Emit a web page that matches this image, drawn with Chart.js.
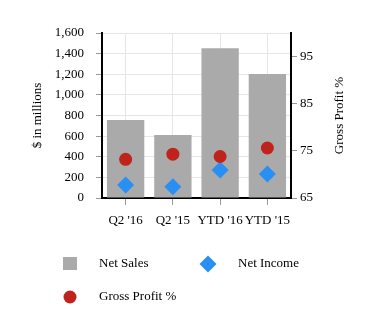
<!DOCTYPE html>
<html>
<head>
<meta charset="utf-8">
<script src="https://cdn.jsdelivr.net/npm/chart.js@4/dist/chart.umd.min.js"></script>
<style>
  html, body { margin: 0; padding: 0; background: #fff; }
</style>
</head>
<body>
<canvas id="salesChart" width="377" height="333"></canvas>
<script>
// chart data
const categories = ["Q2 '16", "Q2 '15", "YTD '16", "YTD '15"];
const netSales = [756, 611, 1452, 1203];      // $ in millions
const netIncome = [126, 110, 272, 233];       // $ in millions
const grossProfit = [73.2, 74.3, 73.8, 75.6]; // %
const rightTicks = [65, 75, 85, 95];

const serif = 'Liberation Serif';
Chart.defaults.font.family = serif;
Chart.defaults.font.size = 13;
Chart.defaults.color = '#000';

// legend laid out in a grid under the plot, plus the right axis title
const extras = {
    id: 'extras',
    afterDraw(chart) {
        const c = chart.ctx;
        const ds = chart.data.datasets;
        c.save();
        c.font = '13px "Liberation Serif"';
        c.fillStyle = '#000';
        c.textBaseline = 'middle';
        c.textAlign = 'left';

        // Net Sales box
        c.fillStyle = ds[0].backgroundColor;
        c.fillRect(63, 257, 14, 13);
        c.fillStyle = '#000';
        c.fillText(ds[0].label, 99, 264);

        // Net Income diamond
        c.fillStyle = ds[1].pointBackgroundColor;
        c.beginPath();
        c.moveTo(208, 255.5);
        c.lineTo(216.5, 264);
        c.lineTo(208, 272.5);
        c.lineTo(199.5, 264);
        c.closePath();
        c.fill();
        c.fillStyle = '#000';
        c.fillText(ds[1].label, 238, 264);

        // Gross Profit circle
        c.fillStyle = ds[2].pointBackgroundColor;
        c.beginPath();
        c.arc(70, 297, 6.5, 0, Math.PI * 2);
        c.fill();
        c.fillStyle = '#000';
        c.fillText(ds[2].label, 99, 297);

        // right axis title, reading upward
        const a = chart.chartArea;
        c.translate(340, (a.top + a.bottom) / 2);
        c.rotate(-Math.PI / 2);
        c.textAlign = 'center';
        c.fillText('Gross Profit %', 0, 0);
        c.restore();
    }
};

const ctx = document.getElementById('salesChart').getContext('2d');
const salesChart = new Chart(ctx, {
    data: {
        labels: categories,
        datasets: [{
            type: 'bar',
            label: 'Net Sales',
            data: netSales,
            backgroundColor: '#aaaaaa',
            categoryPercentage: 1,
            barPercentage: 0.79,
            yAxisID: 'y',
            order: 10
        }, {
            type: 'line',
            label: 'Net Income',
            data: netIncome,
            showLine: false,
            pointStyle: 'rectRot',
            pointRadius: 8.5,
            pointHoverRadius: 8.5,
            pointBorderWidth: 0,
            pointBackgroundColor: '#2a8ff2',
            borderColor: '#2a8ff2',
            yAxisID: 'y',
            order: 1
        }, {
            type: 'line',
            label: 'Gross Profit %',
            data: grossProfit,
            showLine: false,
            pointStyle: 'circle',
            pointRadius: 6.5,
            pointHoverRadius: 6.5,
            pointBorderWidth: 0,
            pointBackgroundColor: '#c0231b',
            borderColor: '#c0231b',
            yAxisID: 'y1',
            order: 0
        }]
    },
    options: {
        responsive: false,
        animation: false,
        devicePixelRatio: 1,
        layout: { padding: { top: 33, left: 0, right: 0, bottom: 0 } },
        scales: {
            x: {
                offset: true,
                grid: { offset: false, color: '#e6e6e6', tickColor: '#999', tickLength: 7 },
                border: { color: '#000', width: 2 },
                ticks: { padding: 8, maxRotation: 0, autoSkip: false },
                afterFit: s => { s.height = 135; }
            },
            y: {
                position: 'left',
                min: 0,
                max: 1600,
                ticks: { stepSize: 200, padding: 12 },
                grid: { color: '#e6e6e6', tickColor: '#999', tickLength: 6 },
                border: { color: '#000', width: 2 },
                title: { display: true, text: '$ in millions', padding: { top: 30, bottom: 0 } },
                afterFit: s => { s.width = 102; }
            },
            y1: {
                position: 'right',
                min: 65,
                max: 100,
                afterBuildTicks: s => { s.ticks = rightTicks.map(v => ({ value: v })); },
                ticks: { padding: 3 },
                grid: { drawOnChartArea: false, tickColor: '#999', tickLength: 6 },
                border: { color: '#000', width: 2 },
                afterFit: s => { s.width = 86; }
            }
        },
        plugins: {
            legend: { display: false },
            tooltip: { enabled: false }
        }
    },
    plugins: [extras]
});
</script>
</body>
</html>
